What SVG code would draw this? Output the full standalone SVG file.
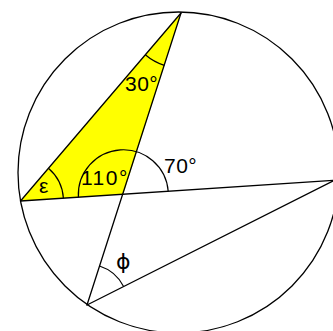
<svg xmlns="http://www.w3.org/2000/svg" width="333" height="331" viewBox="0 0 333 331">
<style>
.ln{stroke:#000;stroke-width:1.3;fill:none;stroke-linecap:round}
.arc{stroke:#000;stroke-width:1.2;fill:none}
.lbl{font-family:"Liberation Sans",Arial,sans-serif;font-size:21px;fill:#000}
.sym{font-family:"DejaVu Sans","Liberation Sans",sans-serif;font-size:22px;fill:#000}
</style>
<rect width="333" height="331" fill="#fff"/>
<g id="triangle">
<polygon points="20.5,201 181,13 123.3,194.2" fill="#ffff00"/>
</g>
<g id="circle">
<circle cx="178.5" cy="172.5" r="160.5" class="ln"/>
</g>
<g id="connectors">
<line class="ln" x1="20.5" y1="201" x2="181" y2="13"/>
<line class="ln" x1="181" y1="13" x2="87" y2="305"/>
<line class="ln" x1="20.5" y1="201" x2="334" y2="180.4"/>
<line class="ln" x1="87" y1="305" x2="334" y2="180.4"/>
</g>
<g id="angles">
<path class="arc" d="M145.3 54.8 A55 55 0 0 0 164.3 65.4"/>
<path class="arc" d="M48.4 168.3 A43 43 0 0 1 63.4 198.2"/>
<path class="arc" d="M78.4 197.2 A45 45 0 0 1 168.2 191.3"/>
<path class="arc" d="M99.5 266 A41 41 0 0 1 123.6 286.5"/>
</g>
<g id="labels">
<text class="lbl" x="125" y="91" letter-spacing="0.5">30°</text>
<text class="lbl" x="81" y="185" letter-spacing="1.5">110°</text>
<text class="lbl" x="164" y="173" letter-spacing="0.5">70°</text>
<text class="lbl" x="39" y="193" font-size="25">ε</text>
<text class="sym" x="116" y="269">ϕ</text>
</g>
</svg>
